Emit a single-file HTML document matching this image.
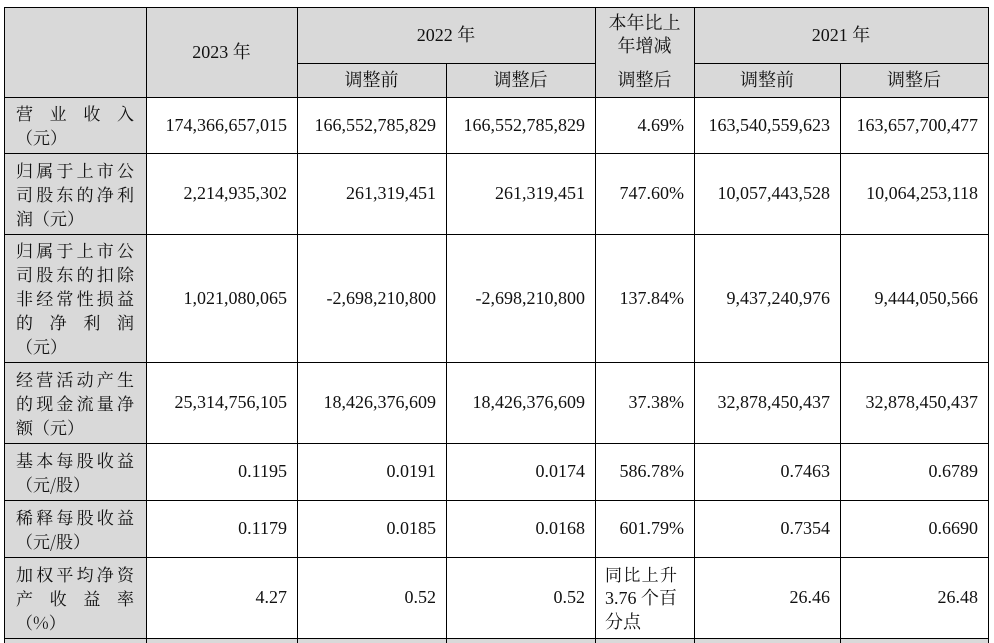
<!DOCTYPE html><html><head><meta charset="utf-8"><style>
body{margin:0;width:994px;height:643px;background:#fff;position:relative;overflow:hidden;font-family:"Liberation Serif","Noto Serif CJK SC",serif;font-size:18px;color:#111}
.g{position:absolute;background:#d9d9d9}
.h{position:absolute;height:1px;background:#000}
.v{position:absolute;width:1px;background:#000}
.c{position:absolute;display:flex;align-items:center;justify-content:center;text-align:center;line-height:23px}
.r{justify-content:flex-end;padding-right:10px;box-sizing:border-box}
.l{position:absolute;left:16px;width:118px;display:flex;flex-direction:column;justify-content:center;line-height:24px;font-family:"Noto Serif CJK SC",serif;font-size:17px}
.j{text-align:justify;text-align-last:justify;white-space:nowrap}
</style></head><body>
<div class="g" style="left:4px;top:7px;width:984px;height:90px"></div>
<div class="g" style="left:4px;top:97px;width:142px;height:541px"></div>
<div class="g" style="left:4px;top:638px;width:984px;height:5px"></div>
<div class="h" style="left:4px;top:7px;width:985px"></div>
<div class="h" style="left:297px;top:63px;width:298px"></div>
<div class="h" style="left:694px;top:63px;width:295px"></div>
<div class="h" style="left:4px;top:97px;width:985px"></div>
<div class="h" style="left:4px;top:153px;width:985px"></div>
<div class="h" style="left:4px;top:234px;width:985px"></div>
<div class="h" style="left:4px;top:362px;width:985px"></div>
<div class="h" style="left:4px;top:443px;width:985px"></div>
<div class="h" style="left:4px;top:500px;width:985px"></div>
<div class="h" style="left:4px;top:557px;width:985px"></div>
<div class="h" style="left:4px;top:638px;width:985px"></div>
<div class="v" style="left:4px;top:7px;height:636px"></div>
<div class="v" style="left:146px;top:7px;height:636px"></div>
<div class="v" style="left:297px;top:7px;height:636px"></div>
<div class="v" style="left:446px;top:63px;height:580px"></div>
<div class="v" style="left:595px;top:7px;height:636px"></div>
<div class="v" style="left:694px;top:7px;height:636px"></div>
<div class="v" style="left:840px;top:63px;height:580px"></div>
<div class="v" style="left:988px;top:7px;height:636px"></div>
<div class="c" style="left:146px;top:7px;width:151px;height:90px">2023 年</div>
<div class="c" style="left:297px;top:7px;width:298px;height:56px">2022 年</div>
<div class="c" style="left:595px;top:7px;width:99px;height:56px">本年比上<br>年增减</div>
<div class="c" style="left:694px;top:7px;width:294px;height:56px">2021 年</div>
<div class="c" style="left:297px;top:63px;width:149px;height:34px">调整前</div>
<div class="c" style="left:446px;top:63px;width:149px;height:34px">调整后</div>
<div class="c" style="left:595px;top:63px;width:99px;height:34px">调整后</div>
<div class="c" style="left:694px;top:63px;width:146px;height:34px">调整前</div>
<div class="c" style="left:840px;top:63px;width:148px;height:34px">调整后</div>
<div class="l" style="top:97px;height:56px"><div class="j">营业收入</div><div>（元）</div></div>
<div class="l" style="top:153px;height:81px"><div class="j">归属于上市公</div><div class="j">司股东的净利</div><div>润（元）</div></div>
<div class="l" style="top:234px;height:128px"><div class="j">归属于上市公</div><div class="j">司股东的扣除</div><div class="j">非经常性损益</div><div class="j">的净利润</div><div>（元）</div></div>
<div class="l" style="top:362px;height:81px"><div class="j">经营活动产生</div><div class="j">的现金流量净</div><div>额（元）</div></div>
<div class="l" style="top:443px;height:57px"><div class="j">基本每股收益</div><div>（元/股）</div></div>
<div class="l" style="top:500px;height:57px"><div class="j">稀释每股收益</div><div>（元/股）</div></div>
<div class="l" style="top:557px;height:81px"><div class="j">加权平均净资</div><div class="j">产收益率</div><div>（%）</div></div>
<div class="c r" style="left:146px;top:97px;width:151px;height:56px">174,366,657,015</div>
<div class="c r" style="left:297px;top:97px;width:149px;height:56px">166,552,785,829</div>
<div class="c r" style="left:446px;top:97px;width:149px;height:56px">166,552,785,829</div>
<div class="c r" style="left:595px;top:97px;width:99px;height:56px">4.69%</div>
<div class="c r" style="left:694px;top:97px;width:146px;height:56px">163,540,559,623</div>
<div class="c r" style="left:840px;top:97px;width:148px;height:56px">163,657,700,477</div>
<div class="c r" style="left:146px;top:153px;width:151px;height:81px">2,214,935,302</div>
<div class="c r" style="left:297px;top:153px;width:149px;height:81px">261,319,451</div>
<div class="c r" style="left:446px;top:153px;width:149px;height:81px">261,319,451</div>
<div class="c r" style="left:595px;top:153px;width:99px;height:81px">747.60%</div>
<div class="c r" style="left:694px;top:153px;width:146px;height:81px">10,057,443,528</div>
<div class="c r" style="left:840px;top:153px;width:148px;height:81px">10,064,253,118</div>
<div class="c r" style="left:146px;top:234px;width:151px;height:128px">1,021,080,065</div>
<div class="c r" style="left:297px;top:234px;width:149px;height:128px">-2,698,210,800</div>
<div class="c r" style="left:446px;top:234px;width:149px;height:128px">-2,698,210,800</div>
<div class="c r" style="left:595px;top:234px;width:99px;height:128px">137.84%</div>
<div class="c r" style="left:694px;top:234px;width:146px;height:128px">9,437,240,976</div>
<div class="c r" style="left:840px;top:234px;width:148px;height:128px">9,444,050,566</div>
<div class="c r" style="left:146px;top:362px;width:151px;height:81px">25,314,756,105</div>
<div class="c r" style="left:297px;top:362px;width:149px;height:81px">18,426,376,609</div>
<div class="c r" style="left:446px;top:362px;width:149px;height:81px">18,426,376,609</div>
<div class="c r" style="left:595px;top:362px;width:99px;height:81px">37.38%</div>
<div class="c r" style="left:694px;top:362px;width:146px;height:81px">32,878,450,437</div>
<div class="c r" style="left:840px;top:362px;width:148px;height:81px">32,878,450,437</div>
<div class="c r" style="left:146px;top:443px;width:151px;height:57px">0.1195</div>
<div class="c r" style="left:297px;top:443px;width:149px;height:57px">0.0191</div>
<div class="c r" style="left:446px;top:443px;width:149px;height:57px">0.0174</div>
<div class="c r" style="left:595px;top:443px;width:99px;height:57px">586.78%</div>
<div class="c r" style="left:694px;top:443px;width:146px;height:57px">0.7463</div>
<div class="c r" style="left:840px;top:443px;width:148px;height:57px">0.6789</div>
<div class="c r" style="left:146px;top:500px;width:151px;height:57px">0.1179</div>
<div class="c r" style="left:297px;top:500px;width:149px;height:57px">0.0185</div>
<div class="c r" style="left:446px;top:500px;width:149px;height:57px">0.0168</div>
<div class="c r" style="left:595px;top:500px;width:99px;height:57px">601.79%</div>
<div class="c r" style="left:694px;top:500px;width:146px;height:57px">0.7354</div>
<div class="c r" style="left:840px;top:500px;width:148px;height:57px">0.6690</div>
<div class="c r" style="left:146px;top:557px;width:151px;height:81px">4.27</div>
<div class="c r" style="left:297px;top:557px;width:149px;height:81px">0.52</div>
<div class="c r" style="left:446px;top:557px;width:149px;height:81px">0.52</div>
<div class="c" style="left:605px;top:557px;width:82px;height:81px;justify-content:flex-start;text-align:left;line-height:24px"><div><div class="j" style="font-family:'Noto Serif CJK SC',serif;font-size:17px">同比上升</div><div>3.76 个百</div><div>分点</div></div></div>
<div class="c r" style="left:694px;top:557px;width:146px;height:81px">26.46</div>
<div class="c r" style="left:840px;top:557px;width:148px;height:81px">26.48</div>
</body></html>
